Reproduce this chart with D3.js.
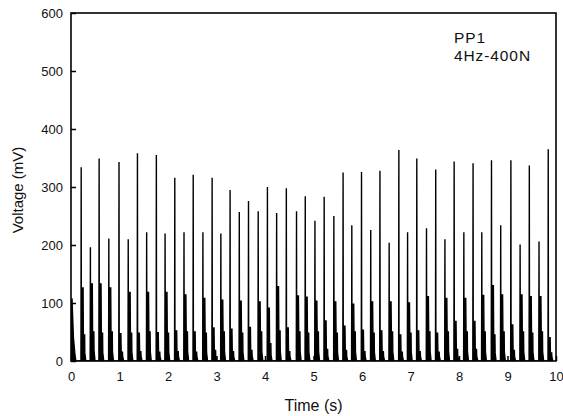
<!DOCTYPE html>
<html>
<head>
<meta charset="utf-8">
<script src="https://cdn.jsdelivr.net/npm/d3@7"></script>
<style>
  html, body { margin: 0; padding: 0; background: #fff; }
  svg { display: block; font-family: Arial, "Liberation Sans", sans-serif; }
</style>
</head>
<body>
<svg id="chart" width="563" height="416"></svg>
<script>
// ---- data ----
const xTicks = [0, 1, 2, 3, 4, 5, 6, 7, 8, 9, 10];
const yTicks = [0, 100, 200, 300, 400, 500, 600];
const xTitle = "Time (s)";
const yTitle = "Voltage (mV)";
const labelLines = ["PP1", "4Hz-400N"];

// time of each main spike (s)
const spikeTimes = [0.21, 0.40, 0.58, 0.78, 0.99, 1.18, 1.37, 1.56, 1.76, 1.94,
  2.14, 2.33, 2.52, 2.72, 2.91, 3.09, 3.28, 3.47, 3.66, 3.86,
  4.05, 4.24, 4.44, 4.65, 4.83, 5.03, 5.22, 5.42, 5.61, 5.79,
  5.99, 6.18, 6.37, 6.56, 6.76, 6.94, 7.13, 7.33, 7.52, 7.71,
  7.90, 8.10, 8.29, 8.47, 8.67, 8.86, 9.07, 9.26, 9.45, 9.65, 9.84];
// main peak (mV)
const peakMain = [334, 196, 349, 211, 343, 210, 358, 222, 355, 220,
  316, 222, 321, 222, 316, 220, 295, 257, 276, 258,
  300, 255, 298, 258, 284, 242, 283, 250, 325, 234,
  326, 226, 328, 204, 364, 222, 349, 229, 330, 210,
  344, 222, 341, 222, 346, 234, 346, 201, 337, 206, 365];
// second (rebound) peak (mV)
const peakSecond = [126, 133, 133, 126, 47, 118, 48, 118, 49, 118,
  52, 114, 50, 108, 57, 105, 55, 103, 58, 102,
  91, 128, 57, 112, 110, 103, 69, 102, 60, 98,
  53, 102, 52, 102, 45, 100, 52, 111, 48, 108,
  68, 108, 68, 113, 130, 114, 62, 114, 111, 111, 40];
// third peak (mV)
const peakThird = [45, 50, 48, 50, 15, 48, 16, 50, 15, 48,
  16, 50, 15, 48, 18, 50, 16, 48, 18, 50,
  30, 52, 16, 50, 48, 50, 20, 48, 18, 50,
  16, 48, 16, 50, 15, 48, 16, 50, 15, 50,
  20, 50, 20, 50, 45, 50, 18, 50, 48, 50, 14];
// fourth (tail) peak (mV)
const peakFourth = [14, 18, 15, 16, 8, 15, 8, 16, 8, 15,
  8, 16, 8, 15, 9, 16, 8, 15, 9, 16,
  10, 16, 8, 16, 15, 16, 9, 15, 8, 16,
  8, 15, 8, 16, 8, 15, 8, 16, 8, 16,
  9, 16, 9, 16, 14, 16, 8, 16, 15, 16, 7];
// partial pulse at the very start of the record
const leadTimes = [0.0, 0.02, 0.05, 0.08, 0.10];
const leadValues = [20, 108, 40, 12, 0];
// time offsets (s) of the sub-peaks after each main peak
const subOffsets = [0.008, 0.045, 0.075, 0.095];

// ---- layout ----
const svg = d3.select("#chart");
const margin = { left: 71, right: 7, top: 13, bottom: 55 };
const W = 563, H = 416;
const x = d3.scaleLinear().domain([0, 10]).range([margin.left, W - margin.right]);
const y = d3.scaleLinear().domain([0, 600]).range([H - margin.bottom, margin.top]);

// build signal
const pts = [];
leadTimes.forEach((t, i) => pts.push([t, leadValues[i]]));
spikeTimes.forEach((t, i) => {
  pts.push([t - 0.005, 0]);
  pts.push([t, peakMain[i]]);
  pts.push([t + 0.004, 2]);
  pts.push([t + subOffsets[0], peakSecond[i]]);
  pts.push([t + subOffsets[1] - 0.006, peakSecond[i]]);
  pts.push([t + subOffsets[1], peakThird[i]]);
  pts.push([t + subOffsets[2] - 0.004, peakThird[i]]);
  pts.push([t + subOffsets[2], peakFourth[i]]);
  pts.push([t + subOffsets[3], 0]);
});

svg.append("clipPath").attr("id", "clip").append("rect")
  .attr("x", x(0)).attr("y", y(600)).attr("width", x(10) - x(0)).attr("height", y(0) - y(600));

const g = svg.append("g").attr("clip-path", "url(#clip)");
g.append("path").datum(pts)
  .attr("d", d3.area().x(d => x(d[0])).y0(y(0)).y1(d => y(d[1])))
  .attr("fill", "#000");
g.append("path").datum(pts)
  .attr("d", d3.line().x(d => x(d[0])).y(d => y(d[1])))
  .attr("fill", "none").attr("stroke", "#000").attr("stroke-width", 1.4);

// axes
const xAxis = d3.axisBottom(x).tickValues(xTicks).tickSize(-5).tickPadding(11).tickSizeOuter(0);
const yAxis = d3.axisLeft(y).tickValues(yTicks).tickSize(-5).tickPadding(8).tickSizeOuter(0);
const gx = svg.append("g").attr("transform", `translate(0,${y(0)})`).call(xAxis);
const gy = svg.append("g").attr("transform", `translate(${x(0)},0)`).call(yAxis);
[gx, gy].forEach(a => {
  a.select(".domain").remove();
  a.selectAll(".tick line").attr("stroke", "#000").attr("stroke-width", 1.5);
  a.selectAll(".tick text").attr("fill", "#111").style("font-size", "13px");
});

// frame
svg.append("rect")
  .attr("x", x(0)).attr("y", y(600)).attr("width", x(10) - x(0)).attr("height", y(0) - y(600))
  .attr("fill", "none").attr("stroke", "#000").attr("stroke-width", 1.6);

// titles
svg.append("text").attr("x", (x(0) + x(10)) / 2).attr("y", 411)
  .attr("text-anchor", "middle").attr("fill", "#111").style("font-size", "16px").text(xTitle);
svg.append("text").attr("transform", `translate(23,${(y(0) + y(600)) / 2 + 3}) rotate(-90)`)
  .attr("text-anchor", "middle").attr("fill", "#111").style("font-size", "15px").text(yTitle);

// annotation (two separate lines)
labelLines.forEach((s, i) => {
  svg.append("text").attr("x", 454).attr("y", 43 + i * 17.5)
    .attr("fill", "#111").style("font-size", "15.5px").style("letter-spacing", "0.9px").text(s);
});
</script>
</body>
</html>
